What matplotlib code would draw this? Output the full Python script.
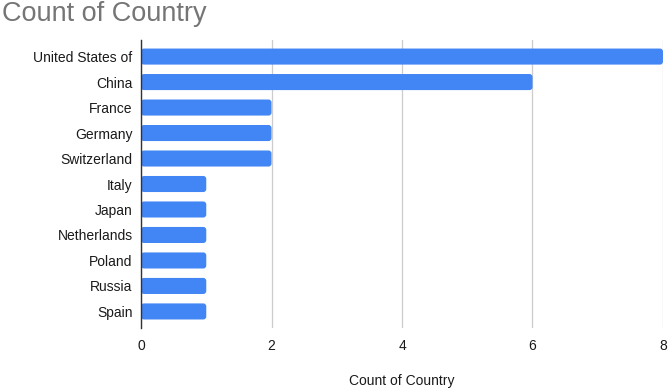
import matplotlib
matplotlib.use('Agg')
import matplotlib.pyplot as plt
from matplotlib.patches import FancyBboxPatch

# data
countries = ['United States of', 'China', 'France', 'Germany', 'Switzerland',
             'Italy', 'Japan', 'Netherlands', 'Poland', 'Russia', 'Spain']
counts = [8, 6, 2, 2, 2, 1, 1, 1, 1, 1, 1]
x_ticks = [0, 2, 4, 6, 8]

plt.rcParams['font.family'] = ['Liberation Sans', 'DejaVu Sans']

fig = plt.figure(figsize=(6.69, 3.91), dpi=100)
ax = fig.add_axes([0.2108, 0.1611, 0.7802, 0.7366])

ypos = list(range(len(countries)))
bars = ax.barh(ypos, counts, height=0.63, color='#4285F4')

ax.set_xlim(0, 8)
ax.set_ylim(len(countries) - 0.35, -0.65)

# swap plain bars for ones with slightly rounded corners
x_per_px = 8 / 522
y_per_px = (len(countries) + 0.3) / 288
for b in bars:
    x0, y0 = b.get_x(), b.get_y()
    w, h = b.get_width(), b.get_height()
    b.set_visible(False)
    p = FancyBboxPatch((x0, y0), w, h,
                       boxstyle='round,pad=0,rounding_size=%f' % (3 * x_per_px),
                       mutation_aspect=y_per_px / x_per_px,
                       facecolor='#4285F4', edgecolor='none', zorder=2)
    ax.add_patch(p)

ax.set_xticks(x_ticks)
ax.set_yticks(ypos)
ax.set_yticklabels(countries)
ax.tick_params(axis='both', length=0, labelsize=10, colors='#1a1a1a')
ax.tick_params(axis='x', pad=8)
ax.tick_params(axis='y', pad=6)

ax.grid(axis='x', color='#cccccc', linewidth=0.9, zorder=0)
ax.set_axisbelow(True)
for s in ['top', 'right', 'bottom']:
    ax.spines[s].set_visible(False)
ax.spines['left'].set_color('#333333')
ax.spines['left'].set_linewidth(1)
ax.spines['left'].set_zorder(3)

ax.set_xlabel('Count of Country', fontsize=10, color='#1a1a1a', labelpad=15)
fig.text(0.003, 0.965, 'Count of Country', fontsize=19.5, color='#757575',
         ha='left', va='center')

fig.savefig('out.png', dpi=100)
